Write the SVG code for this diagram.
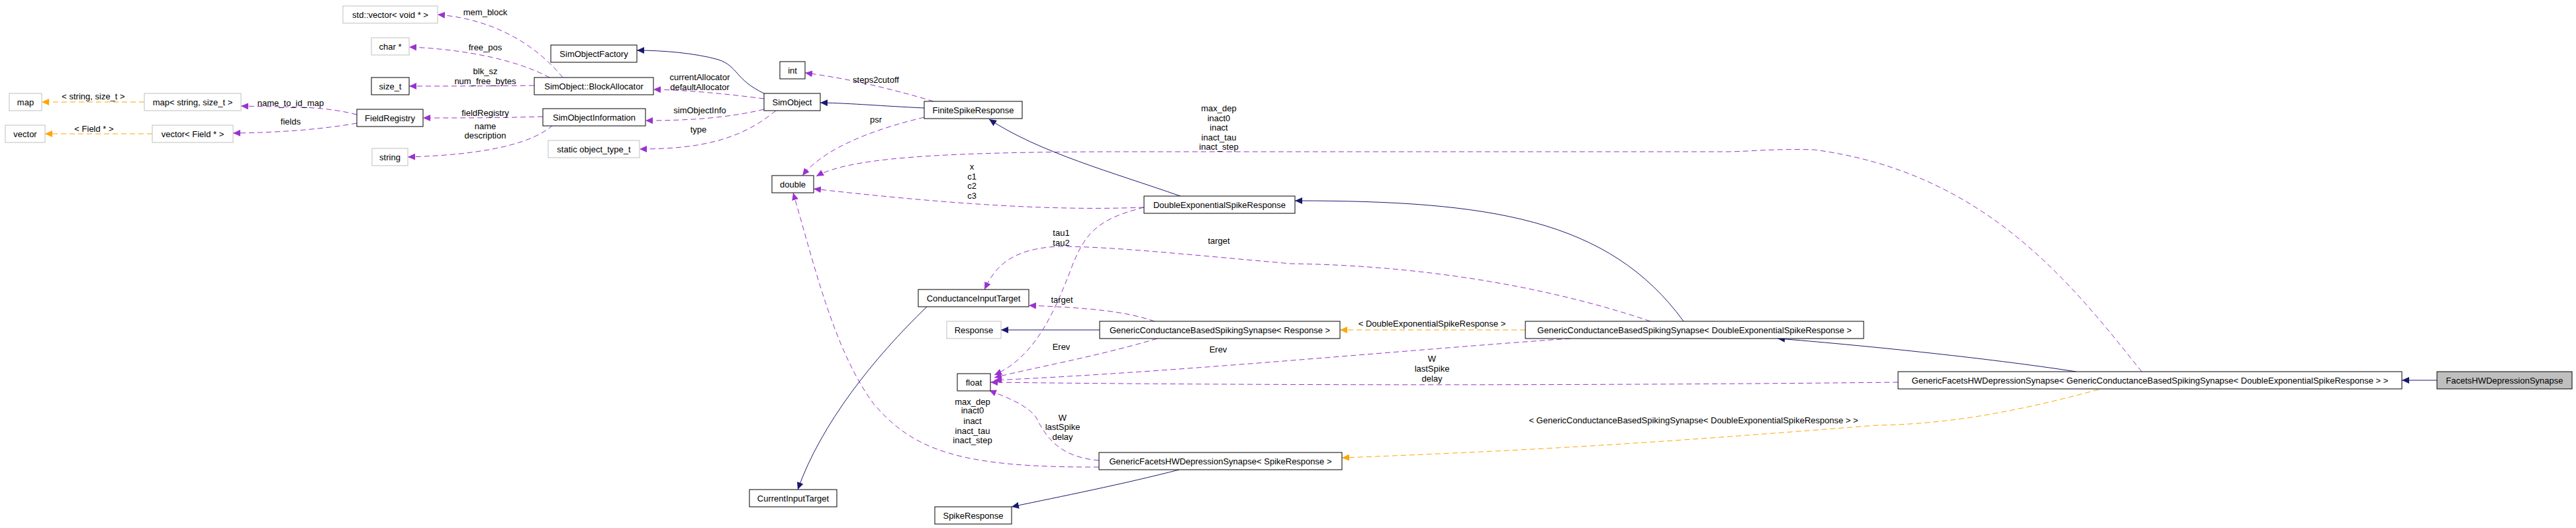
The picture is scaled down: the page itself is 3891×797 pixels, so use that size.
<svg xmlns="http://www.w3.org/2000/svg" width="3891" height="797" viewBox="0 0 3891 797">
<style>
text{font-family:"Liberation Sans",Arial,sans-serif;font-size:13px;fill:#000;text-anchor:middle}
.n rect{fill:#fff;stroke:#000;stroke-width:1}
.g rect{stroke:#bfbfbf}
.u{fill:none;stroke:#9a32cd;stroke-width:1;stroke-dasharray:8,5;marker-end:url(#mu)}
.t{fill:none;stroke:#ffa500;stroke-width:1;stroke-dasharray:8,5;marker-end:url(#mt)}
.i{fill:none;stroke:#191970;stroke-width:1;marker-end:url(#mi)}
</style>
<defs>
<marker id="mu" markerUnits="userSpaceOnUse" markerWidth="12" markerHeight="10" refX="11" refY="5" orient="auto"><path d="M0,0L11,5L0,10z" fill="#9a32cd"/></marker>
<marker id="mt" markerUnits="userSpaceOnUse" markerWidth="12" markerHeight="10" refX="11" refY="5" orient="auto"><path d="M0,0L11,5L0,10z" fill="#ffa500"/></marker>
<marker id="mi" markerUnits="userSpaceOnUse" markerWidth="12" markerHeight="10" refX="11" refY="5" orient="auto"><path d="M0,0L11,5L0,10z" fill="#191970"/></marker>
</defs>
<rect width="3891" height="797" fill="#fff"/>
<g id="edges">
<path class="t" d="M218,154L63,154"/>
<path class="t" d="M230,202L68,202"/>
<path class="u" d="M539,173C480,158 420,162 364,160"/>
<path class="u" d="M539,186C480,196 420,200 352,201"/>
<path class="u" d="M850,117C820,80 760,30 661,22"/>
<path class="u" d="M830,117C780,90 700,74 618,71"/>
<path class="u" d="M807,129C740,130 680,130 618,130"/>
<path class="u" d="M820,176C760,178 700,178 639,178"/>
<path class="u" d="M835,189C800,220 720,234 616,237"/>
<path class="u" d="M1154,149C1100,142 1040,136 987,135"/>
<path class="u" d="M1154,165C1100,178 1040,182 975,182"/>
<path class="u" d="M1172,167C1120,210 1060,225 966,225"/>
<path class="u" d="M1410,153C1350,135 1280,118 1216,110"/>
<path class="u" d="M1396,177C1300,200 1240,230 1212,265"/>
<path class="u" d="M1728,313C1600,318 1450,310 1229,285"/>
<path class="u" d="M3235,561C3130,430 3000,260 2740,226C2680,224 2640,229 2608,229L1700,229C1400,229 1280,240 1233,266"/>
<path class="i" d="M1154,141C1110,120 1115,100 1085,90C1050,80 1000,76 962,76"/>
<path class="i" d="M1396,163C1330,160 1290,156 1239,155"/>
<path class="i" d="M1783,296C1680,260 1570,230 1494,180"/>
<path class="i" d="M2543,485C2430,330 2250,303 1956,303"/>
<path class="i" d="M3136,561C3000,540 2800,520 2685,511"/>
<path class="i" d="M3681,574L3628,574"/>
<path class="i" d="M1661,498L1512,498"/>
<path class="i" d="M1400,463C1320,540 1240,640 1205,739"/>
<path class="i" d="M1781,709C1700,730 1600,750 1528,765"/>
<path class="t" d="M2304,498L2024,498"/>
<path class="t" d="M3170,588C3050,620 2950,640 2834,642C2600,660 2400,677 2027,691"/>
<path class="u" d="M2493,485C2300,420 2100,400 1950,398C1800,385 1680,372 1600,372C1520,375 1500,410 1487,437"/>
<path class="u" d="M1744,485C1700,470 1650,465 1554,461"/>
<path class="u" d="M1728,313C1660,330 1640,350 1620,400C1590,480 1560,540 1502,566"/>
<path class="u" d="M1748,511C1650,540 1560,555 1502,570"/>
<path class="u" d="M2372,511C2100,530 1800,560 1502,574"/>
<path class="u" d="M2867,577C2500,581 2000,583 1496,577"/>
<path class="u" d="M1660,705C1450,706 1380,680 1320,610C1260,530 1230,400 1198,291"/>
<path class="u" d="M1660,695C1600,690 1580,660 1565,630C1550,610 1520,600 1494,589"/>
</g>
<g id="labels">
<text x="141" y="150">&lt; string, size_t &gt;</text>
<text x="142" y="199">&lt; Field * &gt;</text>
<text x="439" y="160">name_to_id_map</text>
<text x="439" y="188">fields</text>
<text x="733" y="23">mem_block</text>
<text x="733" y="76">free_pos</text>
<text x="733" y="112">blk_sz</text>
<text x="733" y="127">num_free_bytes</text>
<text x="733" y="175">fieldRegistry</text>
<text x="733" y="195">name</text>
<text x="733" y="209">description</text>
<text x="1057" y="121">currentAllocator</text>
<text x="1057" y="136">defaultAllocator</text>
<text x="1057" y="171">simObjectInfo</text>
<text x="1055" y="200">type</text>
<text x="1323" y="125">steps2cutoff</text>
<text x="1323" y="185">psr</text>
<text x="1468" y="256">x</text>
<text x="1468" y="271">c1</text>
<text x="1468" y="285">c2</text>
<text x="1468" y="300">c3</text>
<text x="1841" y="168">max_dep</text>
<text x="1841" y="183">inact0</text>
<text x="1841" y="197">inact</text>
<text x="1841" y="212">inact_tau</text>
<text x="1841" y="226">inact_step</text>
<text x="1603" y="356">tau1</text>
<text x="1603" y="371">tau2</text>
<text x="1841" y="368">target</text>
<text x="1604" y="457">target</text>
<text x="1603" y="528">Erev</text>
<text x="1840" y="532">Erev</text>
<text x="2163" y="493">&lt; DoubleExponentialSpikeResponse &gt;</text>
<text x="2163" y="546">W</text>
<text x="2163" y="561">lastSpike</text>
<text x="2163" y="576">delay</text>
<text x="1469" y="611">max_dep</text>
<text x="1469" y="624">inact0</text>
<text x="1469" y="640">inact</text>
<text x="1469" y="655">inact_tau</text>
<text x="1469" y="669">inact_step</text>
<text x="1605" y="635">W</text>
<text x="1605" y="649">lastSpike</text>
<text x="1605" y="664">delay</text>
<text x="2558" y="639">&lt; GenericConductanceBasedSpikingSynapse&lt; DoubleExponentialSpikeResponse &gt; &gt;</text>
</g>
<g id="n_vvoid" class="n g"><rect x="518" y="9" width="143" height="26"/><text x="589.5" y="26.5">std::vector&lt; void * &gt;</text></g>
<g id="n_char" class="n g"><rect x="561" y="57" width="57" height="26"/><text x="589.5" y="74.5">char *</text></g>
<g id="n_size" class="n"><rect x="561" y="117" width="57" height="26"/><text x="589.5" y="134.5">size_t</text></g>
<g id="n_map" class="n g"><rect x="14" y="141" width="49" height="26"/><text x="38.5" y="158.5">map</text></g>
<g id="n_mapss" class="n g"><rect x="218" y="141" width="146" height="26"/><text x="291" y="158.5">map&lt; string, size_t &gt;</text></g>
<g id="n_vec" class="n g"><rect x="8" y="189" width="60" height="26"/><text x="38" y="206.5">vector</text></g>
<g id="n_vecf" class="n g"><rect x="230" y="189" width="122" height="26"/><text x="291" y="206.5">vector&lt; Field * &gt;</text></g>
<g id="n_fr" class="n"><rect x="539" y="165" width="100" height="26"/><text x="589" y="182.5">FieldRegistry</text></g>
<g id="n_string" class="n g"><rect x="562" y="224" width="54" height="26"/><text x="589" y="241.5">string</text></g>
<g id="n_sof" class="n"><rect x="832" y="68" width="130" height="26"/><text x="897" y="85.5">SimObjectFactory</text></g>
<g id="n_ba" class="n"><rect x="807" y="117" width="180" height="26"/><text x="897" y="134.5">SimObject::BlockAllocator</text></g>
<g id="n_soi" class="n"><rect x="820" y="164" width="155" height="26"/><text x="897.5" y="181.5">SimObjectInformation</text></g>
<g id="n_sot" class="n g"><rect x="828" y="212" width="138" height="26"/><text x="897" y="229.5">static object_type_t</text></g>
<g id="n_so" class="n"><rect x="1154" y="141" width="85" height="26"/><text x="1196.5" y="158.5">SimObject</text></g>
<g id="n_int" class="n"><rect x="1178" y="93" width="38" height="26"/><text x="1197" y="110.5">int</text></g>
<g id="n_fsr" class="n"><rect x="1396" y="153" width="148" height="26"/><text x="1470" y="170.5">FiniteSpikeResponse</text></g>
<g id="n_double" class="n"><rect x="1166" y="265" width="63" height="26"/><text x="1197.5" y="282.5">double</text></g>
<g id="n_desr" class="n"><rect x="1728" y="296" width="228" height="26"/><text x="1842" y="313.5">DoubleExponentialSpikeResponse</text></g>
<g id="n_cit" class="n"><rect x="1387" y="437" width="167" height="26"/><text x="1470.5" y="454.5">ConductanceInputTarget</text></g>
<g id="n_resp" class="n g"><rect x="1430" y="485" width="82" height="26"/><text x="1471" y="502.5">Response</text></g>
<g id="n_gcr" class="n"><rect x="1661" y="485" width="363" height="26"/><text x="1842.5" y="502.5">GenericConductanceBasedSpikingSynapse&lt; Response &gt;</text></g>
<g id="n_gcd" class="n"><rect x="2304" y="485" width="511" height="26"/><text x="2559.5" y="502.5">GenericConductanceBasedSpikingSynapse&lt; DoubleExponentialSpikeResponse &gt;</text></g>
<g id="n_float" class="n"><rect x="1446" y="564" width="50" height="26"/><text x="1471" y="581.5">float</text></g>
<g id="n_gfs" class="n"><rect x="1660" y="683" width="367" height="26"/><text x="1843.5" y="700.5">GenericFacetsHWDepressionSynapse&lt; SpikeResponse &gt;</text></g>
<g id="n_spr" class="n"><rect x="1412" y="765" width="116" height="26"/><text x="1470" y="782.5">SpikeResponse</text></g>
<g id="n_curr" class="n"><rect x="1132" y="739" width="132" height="26"/><text x="1198" y="756.5">CurrentInputTarget</text></g>
<g id="n_gfg" class="n"><rect x="2867" y="561" width="761" height="26"/><text x="3247.5" y="578.5">GenericFacetsHWDepressionSynapse&lt; GenericConductanceBasedSpikingSynapse&lt; DoubleExponentialSpikeResponse &gt; &gt;</text></g>
<g id="n_fhw" class="n"><rect x="3681" y="561" width="204" height="26" style="fill:#bfbfbf"/><text x="3783" y="578.5">FacetsHWDepressionSynapse</text></g>
</svg>
